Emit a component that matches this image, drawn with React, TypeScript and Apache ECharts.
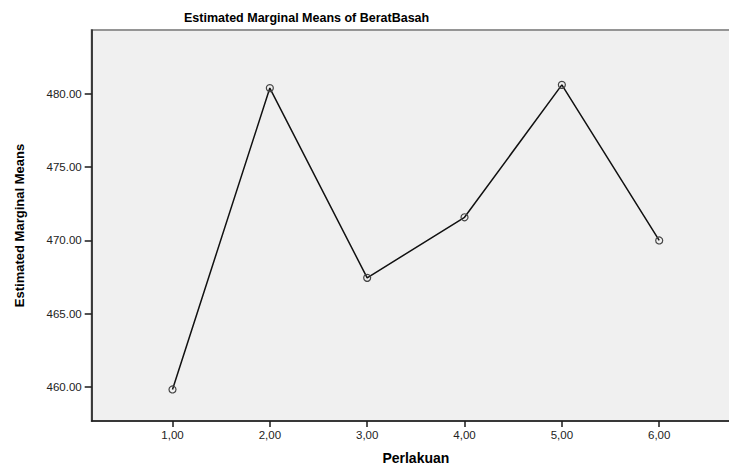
import React, { useEffect, useRef } from "react";
import * as echarts from "echarts";

const categories = [1, 2, 3, 4, 5, 6];
const means = [459.84, 480.39, 467.45, 471.58, 480.61, 470.0];
const yTicks = [460, 465, 470, 475, 480];
const titleText = "Estimated Marginal Means of BeratBasah";
const xTitle = "Perlakuan";
const yTitle = "Estimated Marginal Means";

const FONT = "'Liberation Sans', Arial, sans-serif";

export default function App() {
  const ref = useRef<HTMLDivElement>(null);
  useEffect(() => {
    document.body.style.margin = "0";
    const chart = echarts.init(ref.current!, null, { renderer: "svg" });
    chart.setOption({
      animation: false,
      backgroundColor: "#ffffff",
      textStyle: { fontFamily: FONT },
      graphic: [
        {
          type: "text",
          x: 184,
          y: 18,
          style: {
            text: titleText,
            font: `bold 12.5px ${FONT}`,
            fill: "#000",
            textAlign: "left",
            textVerticalAlign: "middle",
          },
        },
      ],
      grid: {
        left: 91.7,
        top: 30,
        right: 20,
        bottom: 47.7,
        show: true,
        backgroundColor: "#f0f0f0",
        borderColor: "#959595",
        borderWidth: 2,
      },
      xAxis: {
        type: "value",
        min: 0.17,
        max: 6.83,
        name: xTitle,
        nameLocation: "middle",
        nameGap: 30,
        nameTextStyle: { fontFamily: FONT, fontWeight: "bold", fontSize: 14, color: "#000" },
        splitLine: { show: false },
        axisLine: { show: true, onZero: false, lineStyle: { color: "#1a1a1a", width: 1.5 } },
        axisTick: { show: true, length: 6, customValues: categories, lineStyle: { color: "#1a1a1a", width: 1.5 } },
        axisLabel: {
          customValues: categories,
          margin: 8,
          fontSize: 11.5,
          color: "#222",
          fontFamily: FONT,
          formatter: (v: number) => v.toFixed(2).replace(".", ","),
        },
      },
      yAxis: {
        type: "value",
        min: 457.69,
        max: 484.35,
        name: yTitle,
        nameLocation: "middle",
        nameGap: 66,
        nameRotate: 90,
        nameTextStyle: { fontFamily: FONT, fontWeight: "bold", fontSize: 13, color: "#000" },
        splitLine: { show: false },
        axisLine: { show: true, onZero: false, lineStyle: { color: "#1a1a1a", width: 1.5 } },
        axisTick: { show: true, length: 7, customValues: yTicks, lineStyle: { color: "#1a1a1a", width: 1.5 } },
        axisLabel: {
          customValues: yTicks,
          margin: 10,
          fontSize: 11.5,
          color: "#222",
          fontFamily: FONT,
          formatter: (v: number) => v.toFixed(2),
        },
      },
      series: [
        {
          type: "line",
          data: categories.map((c, i) => [c, means[i]]),
          symbol: "circle",
          symbolSize: 7,
          showSymbol: true,
          lineStyle: { color: "#111", width: 1.5 },
          itemStyle: { color: "rgba(0,0,0,0)", borderColor: "#444", borderWidth: 1.2 },
          z: 3,
        },
      ],
    });
    return () => chart.dispose();
  }, []);
  return (
    <div style={{ width: 729, height: 470, overflow: "hidden" }}>
      <div ref={ref} style={{ width: 760, height: 470 }} />
    </div>
  );
}
